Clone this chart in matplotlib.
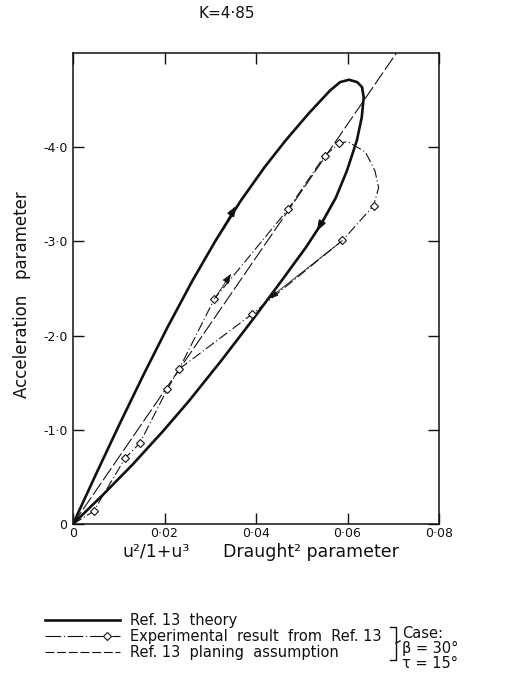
import matplotlib
matplotlib.use("Agg")
import matplotlib.pyplot as plt
from matplotlib.lines import Line2D

# Ref. 13 theory loop (draught^2 parameter, acceleration parameter)
theory_x = [0.0, 0.00499, 0.01014, 0.01546, 0.02062, 0.02609, 0.03115, 0.03669,
            0.04186, 0.04646, 0.05151, 0.05621, 0.05839, 0.06032, 0.06211,
            0.06318, 0.06354, 0.06311, 0.06204, 0.05989, 0.05746, 0.05430,
            0.05090, 0.04558, 0.03907, 0.03234, 0.02533, 0.01968, 0.01302,
            0.00658, 0.0]
theory_y = [0.0, 0.525, 1.057, 1.589, 2.085, 2.582, 3.007, 3.433,
            3.787, 4.071, 4.358, 4.603, 4.691, 4.716, 4.691,
            4.638, 4.528, 4.316, 4.071, 3.752, 3.465, 3.188,
            2.936, 2.582, 2.156, 1.730, 1.305, 0.986, 0.631,
            0.312, 0.0]

# Experimental result from Ref. 13 (path, with diamond flags on measured points)
exp_x = [0.0, 0.0045, 0.0114, 0.0146, 0.0206, 0.0232, 0.0309, 0.0470, 0.0550,
         0.0582, 0.0600, 0.0639, 0.0660, 0.0668, 0.0657, 0.0589, 0.0392, 0.0232]
exp_y = [0.0, 0.135, 0.700, 0.858, 1.430, 1.645, 2.390, 3.340, 3.910,
         4.040, 4.060, 3.950, 3.750, 3.570, 3.380, 3.010, 2.230, 1.645]
exp_marked = [1, 2, 3, 4, 5, 6, 7, 8, 9, 14, 15, 16]

# Ref. 13 planing assumption (straight line through the origin)
plan_x = [0.0, 0.0707]
plan_y = [0.0, 5.0]

x_ticks = [0.0, 0.02, 0.04, 0.06, 0.08]
x_tick_labels = ["0", "0·02", "0·04", "0·06", "0·08"]
y_ticks = [0.0, 1.0, 2.0, 3.0, 4.0]
y_tick_labels = ["0", "-1·0", "-2·0", "-3·0", "-4·0"]

W, H = 531, 688
fig = plt.figure(figsize=(W / 100, H / 100), dpi=100)
fig.patch.set_facecolor("white")

ax_l, ax_r, ax_t, ax_b = 73, 439, 53, 524
ax = fig.add_axes([ax_l / W, 1 - ax_b / H, (ax_r - ax_l) / W, (ax_b - ax_t) / H])
ax.set_xlim(0, 0.08)
ax.set_ylim(0, 5.0)

ink = "#111111"
ax.plot(theory_x, theory_y, color=ink, lw=1.9, solid_capstyle="round",
        solid_joinstyle="round", zorder=3)
ax.plot(exp_x, exp_y, color=ink, lw=0.8, dashes=(9, 2.5, 1, 2.5),
        marker="D", markersize=4.2, markerfacecolor="white",
        markeredgecolor=ink, markeredgewidth=0.8, markevery=exp_marked, zorder=4)
ax.plot(plan_x, plan_y, color=ink, lw=0.8, dashes=(13, 3), zorder=2)

# direction arrows along the curves
arrow_kw = dict(arrowstyle="-|>,head_length=0.6,head_width=0.22", color=ink,
                shrinkA=0, shrinkB=0)


def arrow(p0, p1, w=1.0):
    ax.annotate("", xy=p1, xytext=p0, arrowprops=dict(arrow_kw, lw=w), zorder=5)


arrow((0.03115, 3.007), (0.0357, 3.380), 1.2)
arrow((0.05746, 3.465), (0.05330, 3.110), 1.2)
arrow((0.0309, 2.390), (0.03456, 2.656), 0.6)
arrow((0.0589, 3.010), (0.04272, 2.390), 0.6)

for s in ax.spines.values():
    s.set_linewidth(1.1)
    s.set_color(ink)

ax.set_xticks(x_ticks)
ax.set_xticklabels(x_tick_labels)
ax.set_yticks(y_ticks)
ax.set_yticklabels(y_tick_labels)
ax.tick_params(direction="in", length=8, width=1.0, colors=ink, labelsize=9,
               top=True, right=True)
ax.tick_params(axis="x", pad=2)
ax.tick_params(axis="y", pad=4)

fig.text(227 / W, 1 - 13 / H, "K=4·85", ha="center", va="center", fontsize=11,
         color=ink)
fig.text(122 / W, 1 - 552 / H, "u²/1+u³", ha="left", va="center", fontsize=12.5,
         color=ink)
fig.text(223 / W, 1 - 552 / H, "Draught² parameter", ha="left", va="center",
         fontsize=12.5, color=ink)
fig.text(22 / W, 1 - 295 / H, "Acceleration   parameter", ha="center",
         va="center", rotation=90, fontsize=12, color=ink)

# key below the chart, laid out in pixel units
key = fig.add_axes([0, 0, 1, 1], zorder=-1)
key.set_xlim(0, W)
key.set_ylim(H, 0)
key.axis("off")
rows = [620, 636, 652]
key.add_line(Line2D([45, 120], [rows[0], rows[0]], color=ink, lw=1.9))
key.add_line(Line2D([45, 120], [rows[1], rows[1]], color=ink, lw=0.8,
                    dashes=(14, 2.5, 1, 2.5)))
key.plot([107], [rows[1]], marker="D", markersize=4.2, markerfacecolor="white",
         markeredgecolor=ink, markeredgewidth=0.8)
key.add_line(Line2D([45, 120], [rows[2], rows[2]], color=ink, lw=0.8,
                    dashes=(8, 2.5)))
labels = ["Ref. 13  theory", "Experimental  result  from  Ref. 13",
          "Ref. 13  planing  assumption"]
for r, t in zip(rows, labels):
    key.text(130, r, t, ha="left", va="center", fontsize=10.5, color=ink)
key.add_line(Line2D([390, 396, 396, 390], [627, 627, 660, 660], color=ink, lw=1.0))
key.add_line(Line2D([396, 400], [643, 641], color=ink, lw=1.0))
key.text(402, 633, "Case:", ha="left", va="center", fontsize=10.5, color=ink)
key.text(402, 648, "β = 30°", ha="left", va="center", fontsize=10.5, color=ink)
key.text(402, 663, "τ = 15°", ha="left", va="center", fontsize=10.5, color=ink)

fig.savefig("out.png", dpi=100, facecolor="white")
